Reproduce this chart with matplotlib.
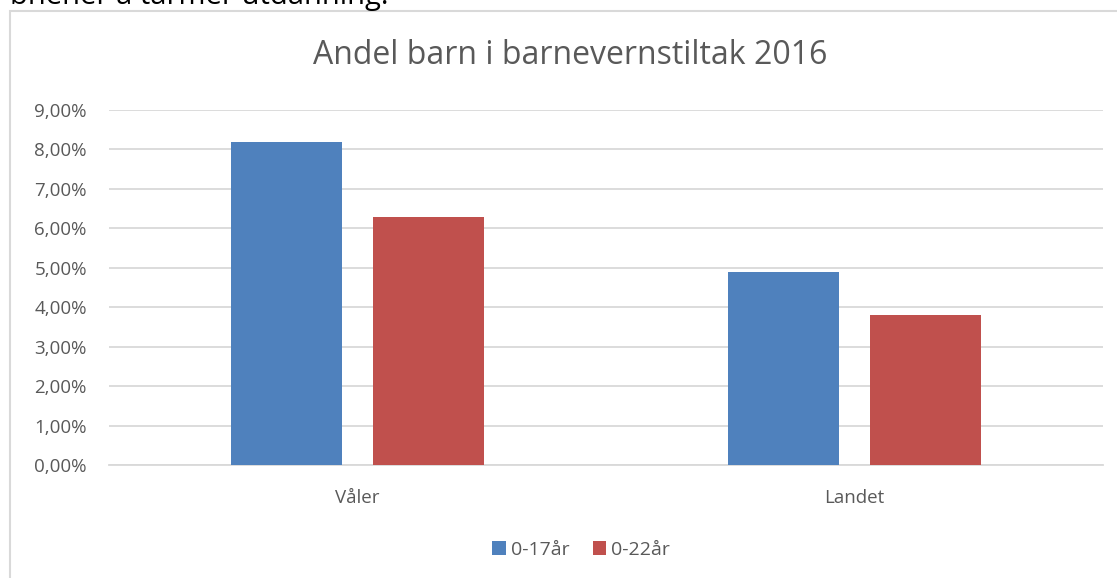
import matplotlib

matplotlib.use("Agg")
import matplotlib.pyplot as plt
from matplotlib.patches import Rectangle
from matplotlib.ticker import FuncFormatter

categories = ["Våler", "Landet"]
series_names = ["0-17år", "0-22år"]
values_0_17 = [8.2, 4.9]
values_0_22 = [6.3, 3.8]
y_ticks = [0, 1, 2, 3, 4, 5, 6, 7, 8, 9]

BLUE = "#4F81BD"
RED = "#C0504D"
GRID = "#D9D9D9"
TEXT = "#595959"

plt.rcParams["font.family"] = ["Open Sans", "DejaVu Sans"]

W, H = 1117, 578
fig = plt.figure(figsize=(W / 100, H / 100), dpi=100)
fig.patch.set_facecolor("white")

# chart frame (cut off at right/bottom like the screenshot)
fig.patches.append(Rectangle((10 / W, -0.1), 1.2, (H - 11) / H + 0.1,
                             transform=fig.transFigure, fill=False,
                             ec=GRID, lw=1.5))
# clipped document text above the chart
fig.text(10 / W, (H - 4) / H, "bhener å tarmer utdanning.", fontsize=21,
         color="black", va="baseline", ha="left")

ax = fig.add_axes([109 / W, (H - 465) / H, (1103 - 109) / W, (465 - 110) / H])
x = range(len(categories))
bw = 0.225
off = 0.143
ax.bar([i - off for i in x], values_0_17, width=bw, color=BLUE, label=series_names[0], zorder=3)
ax.bar([i + off for i in x], values_0_22, width=bw, color=RED, label=series_names[1], zorder=3)

ax.set_xlim(-0.5, 1.5)
ax.set_ylim(0, 9)
ax.set_yticks(y_ticks)
ax.yaxis.set_major_formatter(FuncFormatter(lambda v, p: f"{v:.2f}%".replace(".", ",")))
ax.set_xticks(list(x))
ax.set_xticklabels(categories)
ax.tick_params(axis="both", length=0, labelsize=13.5, colors=TEXT)
ax.tick_params(axis="x", pad=17)
ax.tick_params(axis="y", pad=16)
ax.grid(axis="y", color=GRID, lw=1.3, zorder=0)
for s in ("top", "right", "left"):
    ax.spines[s].set_visible(False)
ax.spines["bottom"].set_color(GRID)
ax.spines["bottom"].set_linewidth(1.3)

fig.text(570 / W, (H - 55) / H, "Andel barn i barnevernstiltak 2016",
         fontsize=23, color=TEXT, ha="center", va="center")

fig.legend(loc="center", bbox_to_anchor=(581 / W, (H - 550) / H), ncol=2,
           frameon=False, fontsize=14, handlelength=0.7, handleheight=0.7,
           handletextpad=0.25, columnspacing=1.2, labelcolor=TEXT)

fig.savefig("out.png", dpi=100)
